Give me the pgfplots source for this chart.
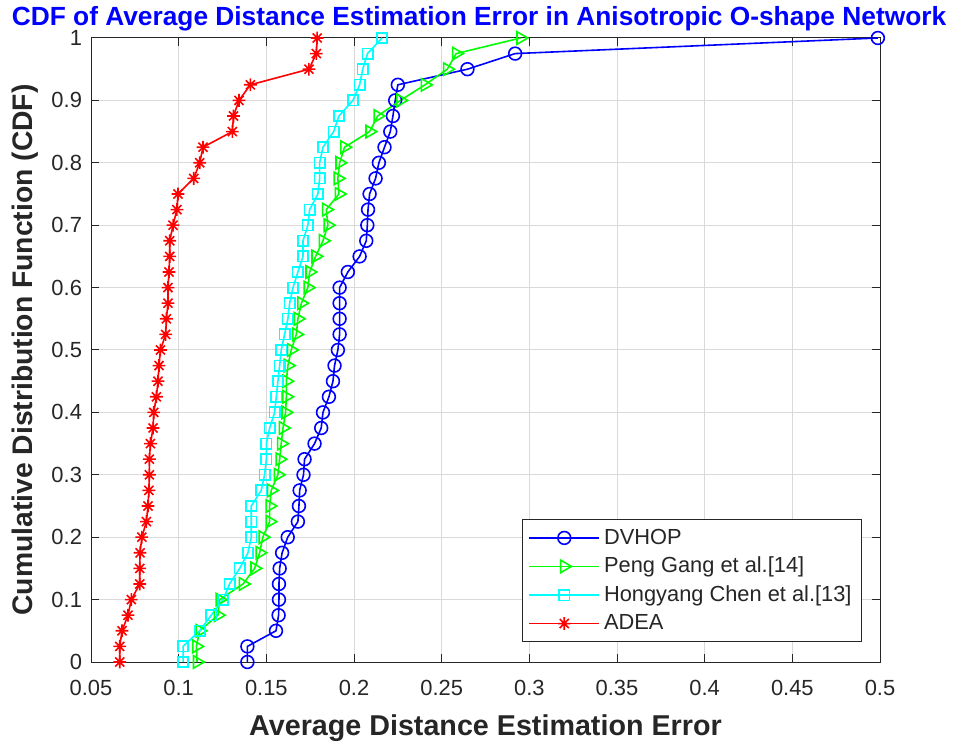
\documentclass[border=0pt]{standalone}
\usepackage{pgfplots}
\pgfplotsset{compat=1.18}
\usepackage{fontspec}
\setmainfont{Liberation Sans}
\definecolor{axgray}{rgb}{0.15,0.15,0.15}
\definecolor{mblue}{rgb}{0,0,1}
\definecolor{mgreen}{rgb}{0,1,0}
\definecolor{mcyan}{rgb}{0,1,1}
\definecolor{mred}{rgb}{1,0,0}
\pgfdeclareplotmark{mstar}{%
  \pgfpathmoveto{\pgfqpoint{-\pgfplotmarksize}{0pt}}\pgfpathlineto{\pgfqpoint{\pgfplotmarksize}{0pt}}%
  \pgfpathmoveto{\pgfqpoint{0pt}{-\pgfplotmarksize}}\pgfpathlineto{\pgfqpoint{0pt}{\pgfplotmarksize}}%
  \pgfpathmoveto{\pgfqpoint{-0.707\pgfplotmarksize}{-0.707\pgfplotmarksize}}\pgfpathlineto{\pgfqpoint{0.707\pgfplotmarksize}{0.707\pgfplotmarksize}}%
  \pgfpathmoveto{\pgfqpoint{-0.707\pgfplotmarksize}{0.707\pgfplotmarksize}}\pgfpathlineto{\pgfqpoint{0.707\pgfplotmarksize}{-0.707\pgfplotmarksize}}%
  \pgfusepathqstroke}
\begin{document}
\begin{tikzpicture}
\useasboundingbox (0,0) rectangle (483bp,371bp);
\begin{axis}[
  at={(45.5bp,40bp)}, anchor=south west,
  scale only axis, width=394.5bp, height=312bp,
  xmin=0.05, xmax=0.5, ymin=0, ymax=1,
  xtick={0.05,0.1,0.15,0.2,0.25,0.3,0.35,0.4,0.45,0.5},
  xticklabels={0.05,0.1,0.15,0.2,0.25,0.3,0.35,0.4,0.45,0.5},
  ytick={0,0.1,0.2,0.3,0.4,0.5,0.6,0.7,0.8,0.9,1},
  yticklabels={0,0.1,0.2,0.3,0.4,0.5,0.6,0.7,0.8,0.9,1},
  grid=major, grid style={black!15, line width=0.5pt},
  tick align=inside, tick pos=both, major tick length=4bp,
  tick style={axgray, line width=0.5pt},
  axis line style={axgray, line width=0.5pt},
  ticklabel style={font=\fontsize{11}{13}\selectfont, text=axgray},
  xticklabel style={yshift=-5.5bp},
  yticklabel style={xshift=-1bp},
  title={CDF of Average Distance Estimation Error in Anisotropic O-shape Network},
  title style={font=\bfseries\fontsize{13.2}{15}\selectfont, text=mblue, at={(axis description cs:0.4918,1.0337)}, anchor=center, yshift=-7bp},
  xlabel={Average Distance Estimation Error},
  ylabel={Cumulative Distribution Function (CDF)},
  xlabel style={font=\bfseries\fontsize{14.4}{16}\selectfont, text=axgray, at={(axis description cs:0.5,-0.106)}, anchor=center},
  ylabel style={font=\bfseries\fontsize{14.2}{16}\selectfont, text=axgray, at={(axis description cs:-0.0837,0.5)}, anchor=center},
  legend style={at={(axis description cs:0.9772,0.032)}, anchor=south east,
    font=\fontsize{10.95}{12.5}\selectfont, text=axgray, draw=axgray, line width=0.5pt,
    inner xsep=3bp, inner ysep=2.5bp, row sep=1bp},
  legend cell align=left,
  legend image code/.code={\draw[mark repeat=2,mark phase=2,#1] plot coordinates {(0bp,0bp) (17.5bp,0bp) (35bp,0bp)};},
  every axis plot/.append style={line width=0.8bp},
]
\addplot[mblue, mark=o, mark size=3.2bp, mark options={line width=0.8bp}] coordinates {
(0.1392,0) (0.1392,0.025) (0.1555,0.05) (0.1570,0.075) (0.1572,0.1) (0.1572,0.125)
(0.1576,0.15) (0.1590,0.175) (0.1622,0.2) (0.1680,0.225) (0.1686,0.25) (0.1690,0.275)
(0.1712,0.3) (0.1718,0.325) (0.1775,0.35) (0.1813,0.375) (0.1823,0.4) (0.1857,0.425)
(0.1880,0.45) (0.1889,0.475) (0.1908,0.5) (0.1918,0.525) (0.1918,0.55) (0.1918,0.575)
(0.1918,0.6) (0.1965,0.625) (0.2032,0.65) (0.2070,0.675) (0.2076,0.7) (0.2080,0.725)
(0.2089,0.75) (0.2123,0.775) (0.2142,0.8) (0.2174,0.825) (0.2207,0.85) (0.2222,0.875)
(0.2235,0.9) (0.2250,0.925) (0.2647,0.95) (0.2919,0.975) (0.4988,1)};
\addlegendentry{DVHOP}
\addplot[mgreen, mark=triangle, mark size=3.6bp, mark options={rotate=-90, line width=0.8bp}] coordinates {
(0.1105,0) (0.1101,0.025) (0.1120,0.05) (0.1224,0.075) (0.1234,0.1) (0.1367,0.125)
(0.1433,0.15) (0.1462,0.175) (0.1480,0.2) (0.1519,0.225) (0.1519,0.25) (0.1528,0.275)
(0.1566,0.3) (0.1576,0.325) (0.1585,0.35) (0.1595,0.375) (0.1610,0.4) (0.1614,0.425)
(0.1614,0.45) (0.1623,0.475) (0.1642,0.5) (0.1671,0.525) (0.1680,0.55) (0.1700,0.575)
(0.1737,0.6) (0.1747,0.625) (0.1781,0.65) (0.1823,0.675) (0.1851,0.7) (0.1842,0.725)
(0.1914,0.75) (0.1908,0.775) (0.1918,0.8) (0.1946,0.825) (0.2089,0.85) (0.2135,0.875)
(0.2265,0.9) (0.2405,0.925) (0.2532,0.95) (0.2583,0.975) (0.2950,1)};
\addlegendentry{Peng Gang et al.[14]}
\addplot[mcyan, mark=square, mark size=2.6bp, mark options={line width=0.8bp}] coordinates {
(0.1025,0) (0.1025,0.025) (0.1120,0.05) (0.1186,0.075) (0.1253,0.1) (0.1290,0.125)
(0.1348,0.15) (0.1395,0.175) (0.1414,0.2) (0.1414,0.225) (0.1414,0.25) (0.1471,0.275)
(0.1490,0.3) (0.1500,0.325) (0.1500,0.35) (0.1519,0.375) (0.1547,0.4) (0.1557,0.425)
(0.1566,0.45) (0.1576,0.475) (0.1585,0.5) (0.1604,0.525) (0.1623,0.55) (0.1633,0.575)
(0.1652,0.6) (0.1680,0.625) (0.1709,0.65) (0.1709,0.675) (0.1737,0.7) (0.1747,0.725)
(0.1794,0.75) (0.1804,0.775) (0.1804,0.8) (0.1823,0.825) (0.1884,0.85) (0.1914,0.875)
(0.1994,0.9) (0.2032,0.925) (0.2050,0.95) (0.2077,0.975) (0.2160,1)};
\addlegendentry{Hongyang Chen et al.[13]}
\addplot[mred, mark=mstar, mark size=3.2bp, mark options={line width=0.8bp}] coordinates {
(0.0664,0) (0.0664,0.025) (0.0677,0.05) (0.0711,0.075) (0.0730,0.1) (0.0778,0.125)
(0.0778,0.15) (0.0780,0.175) (0.0790,0.2) (0.0816,0.225) (0.0825,0.25) (0.0830,0.275)
(0.0833,0.3) (0.0833,0.325) (0.0839,0.35) (0.0854,0.375) (0.0858,0.4) (0.0873,0.425)
(0.0882,0.45) (0.0888,0.475) (0.0896,0.5) (0.0926,0.525) (0.0930,0.55) (0.0939,0.575)
(0.0939,0.6) (0.0945,0.625) (0.0949,0.65) (0.0949,0.675) (0.0968,0.7) (0.0990,0.725)
(0.0996,0.75) (0.1086,0.775) (0.1120,0.8) (0.1139,0.825) (0.1306,0.85) (0.1313,0.875)
(0.1344,0.9) (0.1409,0.925) (0.1743,0.95) (0.1785,0.975) (0.1790,1)};
\addlegendentry{ADEA}
\end{axis}
\end{tikzpicture}
\end{document}
